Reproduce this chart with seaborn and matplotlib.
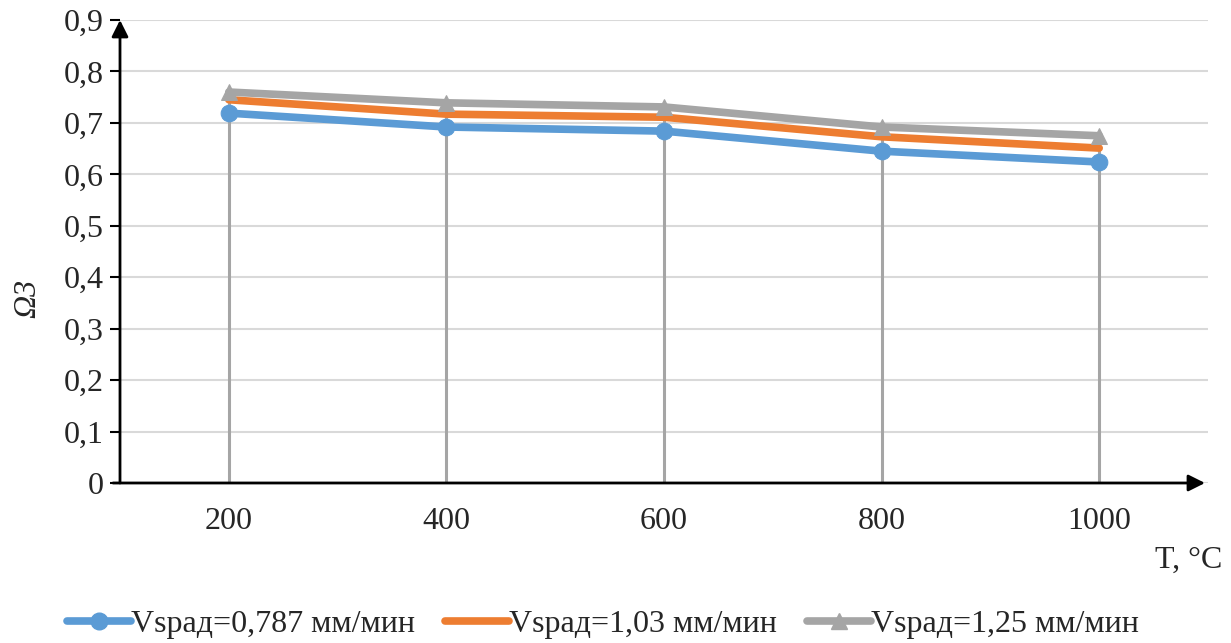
import numpy as np
import pandas as pd
import matplotlib
matplotlib.use("Agg")
import matplotlib.pyplot as plt
from matplotlib.lines import Line2D
from matplotlib.ticker import FuncFormatter
import seaborn as sns

# Data
temps = ["200", "400", "600", "800", "1000"]
v_0787 = [0.719, 0.692, 0.684, 0.645, 0.624]
v_103 = [0.745, 0.717, 0.711, 0.673, 0.651]
v_125 = [0.760, 0.739, 0.731, 0.692, 0.675]
labels = ["Vspaд=0,787 мм/мин", "Vspaд=1,03 мм/мин", "Vspaд=1,25 мм/мин"]
y_ticks = [0, 0.1, 0.2, 0.3, 0.4, 0.5, 0.6, 0.7, 0.8, 0.9]

sns.set_style("white")
plt.rcParams["font.family"] = ["Liberation Serif", "DejaVu Serif"]

colors = ["#5B9BD5", "#ED7D31", "#A5A5A5"]
markers = ["o", None, "^"]
FS = 23

df = pd.DataFrame({
    "x": np.tile(np.arange(len(temps)), 3),
    "value": v_0787 + v_103 + v_125,
    "series": np.repeat(labels, len(temps)),
})

fig = plt.figure(figsize=(12.31, 6.43), dpi=100)
ax = fig.add_axes([120 / 1231, 1 - 483 / 643, 1088 / 1231, 463 / 643])

# drop lines from the top series down to the axis
ax.vlines(range(len(temps)), 0, v_125, color="#A5A5A5", lw=2.2, zorder=1)

for lab, col, mk in zip(labels, colors, markers):
    sub = df[df["series"] == lab]
    sns.lineplot(data=sub, x="x", y="value", ax=ax, color=col, lw=5.5,
                 marker=mk, markersize=12, markeredgecolor=col,
                 solid_capstyle="round", legend=False, zorder=3)

ax.set_xlim(-0.5, 4.5)
ax.set_ylim(0, 0.9)
ax.set_xticks(range(len(temps)))
ax.set_xticklabels(temps)
ax.set_yticks(y_ticks)
ax.yaxis.set_major_formatter(FuncFormatter(
    lambda v, p: "0" if abs(v) < 1e-9 else f"{v:.1f}".replace(".", ",")))
ax.tick_params(axis="y", which="major", length=7, width=1.5, color="black",
               direction="out", left=True, labelsize=FS, pad=5)
ax.tick_params(axis="x", length=0, labelsize=FS, pad=17)
ax.grid(axis="y", color="#D9D9D9", lw=1.5)
ax.set_xlabel("")
ax.set_ylabel("")
for s in ax.spines.values():
    s.set_visible(False)

# arrowed axes
ax.annotate("", xy=(0, 1.0), xycoords="axes fraction",
            xytext=(0, 0), textcoords="axes fraction",
            arrowprops=dict(arrowstyle="-|>", color="black", lw=2,
                            mutation_scale=25, shrinkA=0, shrinkB=0))
ax.annotate("", xy=(1085 / 1088, 0), xycoords="axes fraction",
            xytext=(-7 / 1088, 0), textcoords="axes fraction",
            arrowprops=dict(arrowstyle="-|>", color="black", lw=2,
                            mutation_scale=25, shrinkA=0, shrinkB=0))

fig.text(28 / 1231, 1 - 298 / 643, "Ω3", rotation=90, style="italic",
         ha="center", va="center", fontsize=FS)
fig.text(1222 / 1231, 1 - 560 / 643, "T, °C", ha="right", va="center",
         fontsize=FS)

handles = [Line2D([], [], color=c, lw=5.5, marker=m, markersize=12,
                  solid_capstyle="round") for c, m in zip(colors, markers)]
fig.legend(handles, labels, loc="center", bbox_to_anchor=(603 / 1231, 1 - 624 / 643),
           ncol=3, frameon=False, fontsize=FS, handlelength=2.0,
           handletextpad=0.0, columnspacing=0.95)

fig.savefig("out.png", dpi=100)
